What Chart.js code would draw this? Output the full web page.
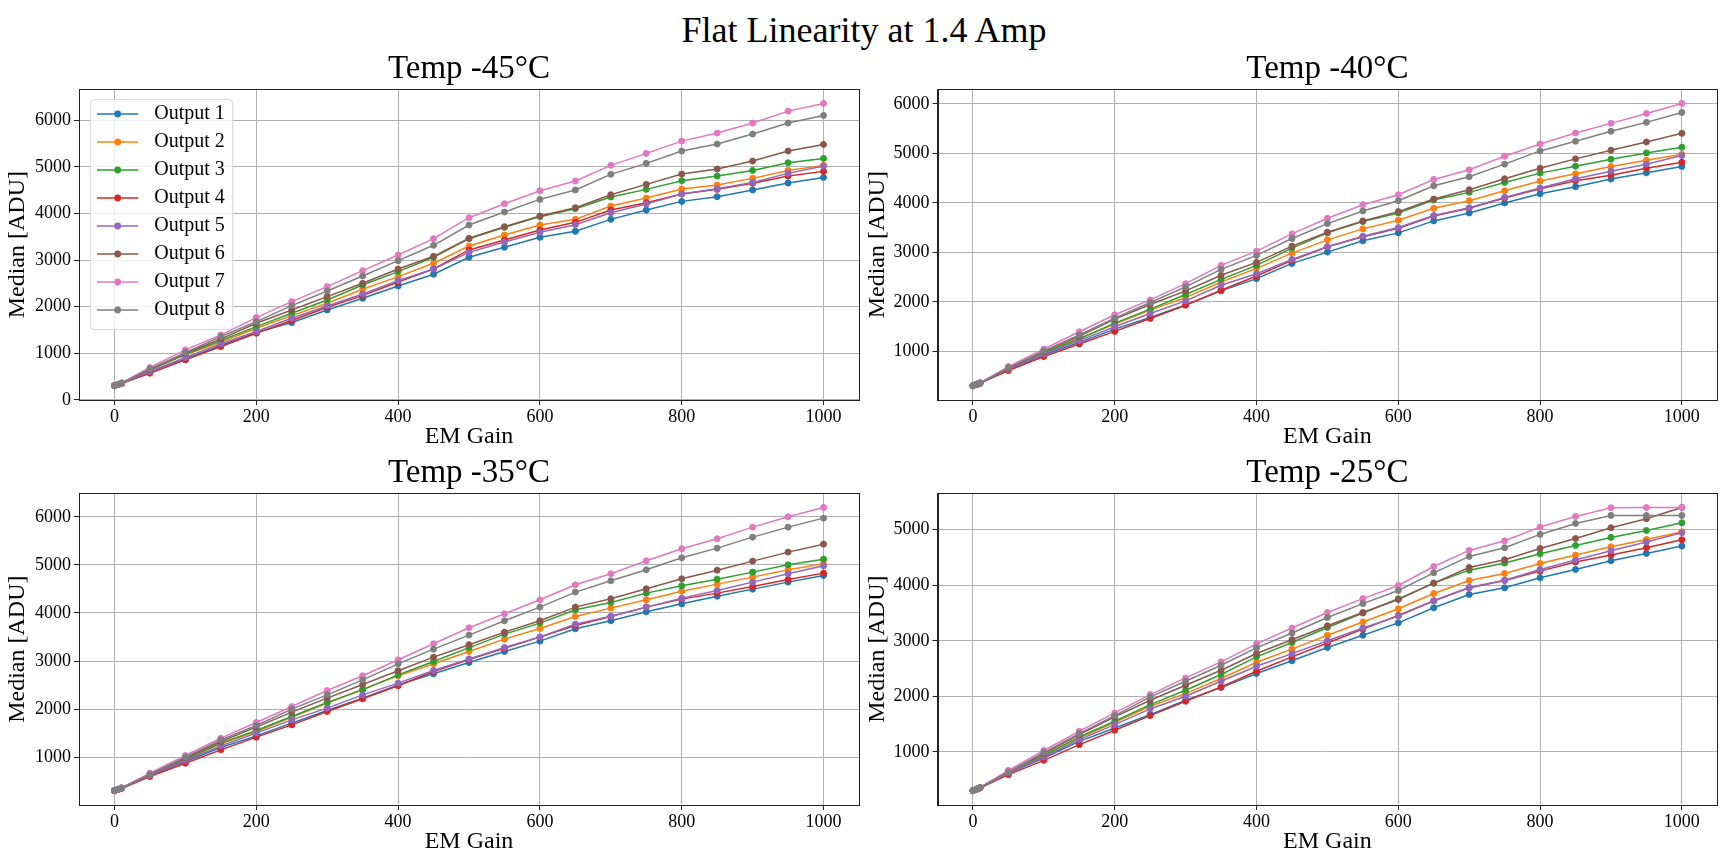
<!DOCTYPE html>
<html>
<head>
<meta charset="utf-8">
<script src="https://cdn.jsdelivr.net/npm/chart.js@4.4.0/dist/chart.umd.min.js"></script>
<style>
html,body{margin:0;padding:0;background:#fff;width:1728px;height:864px;overflow:hidden;}
#suptitle{position:absolute;left:0;top:12px;width:1728px;text-align:center;font-family:"Liberation Serif","DejaVu Serif",serif;font-size:36px;line-height:36px;color:#000;}
canvas{position:absolute;}
</style>
</head>
<body>
<div id="suptitle">Flat Linearity at 1.4 Amp</div>
<canvas id="c1" width="864" height="420" style="left:0px;top:40px"></canvas>
<canvas id="c2" width="864" height="420" style="left:860px;top:40px"></canvas>
<canvas id="c3" width="864" height="420" style="left:0px;top:444px"></canvas>
<canvas id="c4" width="864" height="420" style="left:860px;top:444px"></canvas>
<script>
// ---------- data ----------
const gain = [0,5,10,50,100,150,200,250,300,350,400,450,500,550,600,650,700,750,800,850,900,950,1000];
const outputs = ['Output 1','Output 2','Output 3','Output 4','Output 5','Output 6','Output 7','Output 8'];
const colors = ['#1f77b4','#ff7f0e','#2ca02c','#d62728','#9467bd','#8c564b','#e377c2','#7f7f7f'];
const xTicks = [0,200,400,600,800,1000];
const titles = ['Temp -45\u00B0C','Temp -40\u00B0C','Temp -35\u00B0C','Temp -25\u00B0C'];
const yTicksM45 = [0,1000,2000,3000,4000,5000,6000];
const yTicksM40 = [1000,2000,3000,4000,5000,6000];
const yTicksM35 = [1000,2000,3000,4000,5000,6000];
const yTicksM25 = [1000,2000,3000,4000,5000];

const medianM45 = [
  [305,330,355,608,879,1166,1444,1659,1930,2181,2445,2696,3060,3275,3489,3618,3875,4076,4261,4362,4505,4655,4776],
  [300,328,356,643,965,1237,1537,1809,2074,2374,2646,2932,3303,3539,3754,3875,4161,4333,4526,4612,4755,4926,5034],
  [302,330,358,643,980,1273,1573,1859,2145,2467,2753,3060,3460,3704,3933,4104,4354,4519,4705,4805,4926,5091,5184],
  [301,325,350,572,858,1144,1430,1702,1988,2238,2531,2810,3218,3432,3646,3811,4076,4233,4419,4519,4648,4805,4905],
  [303,327,352,608,908,1201,1466,1752,2016,2274,2560,2810,3167,3389,3596,3761,4018,4204,4419,4533,4669,4862,5019],
  [304,331,359,650,1001,1309,1645,1930,2217,2502,2810,3082,3468,3718,3947,4126,4404,4626,4848,4955,5127,5341,5484],
  [306,334,362,694,1073,1394,1766,2109,2431,2774,3110,3461,3911,4211,4490,4698,5034,5291,5555,5727,5942,6199,6364],
  [305,333,361,665,1015,1359,1680,2023,2338,2660,2989,3318,3754,4033,4304,4505,4841,5077,5341,5491,5706,5942,6106]
];
const medianM40 = [
  [305,330,355,630,925,1180,1448,1683,1938,2220,2468,2776,3004,3232,3393,3635,3796,3997,4185,4326,4480,4607,4735],
  [300,327,354,650,979,1261,1549,1831,2085,2401,2676,2984,3252,3474,3648,3890,4044,4245,4440,4587,4735,4862,4983],
  [302,329,357,655,966,1247,1569,1851,2146,2454,2736,3085,3393,3621,3796,4057,4212,4413,4601,4741,4882,5010,5124],
  [301,325,350,610,892,1147,1401,1663,1931,2233,2521,2837,3112,3313,3487,3735,3890,4098,4285,4446,4560,4701,4822],
  [303,327,352,640,945,1214,1495,1763,2018,2334,2568,2857,3112,3326,3500,3745,3900,4111,4299,4487,4641,4782,4956],
  [304,331,358,660,992,1301,1649,1945,2220,2535,2796,3125,3407,3635,3823,4078,4265,4487,4701,4889,5063,5231,5405],
  [306,334,362,690,1046,1395,1737,2038,2367,2736,3024,3373,3688,3963,4165,4473,4668,4943,5191,5412,5607,5808,6010],
  [305,333,361,670,1006,1328,1670,1985,2300,2655,2937,3279,3581,3836,4044,4346,4527,4782,5050,5245,5446,5627,5828]
];
const medianM35 = [
  [305,330,355,620,910,1201,1444,1708,1971,2228,2505,2734,2970,3199,3414,3671,3837,4024,4191,4350,4496,4642,4780],
  [300,327,354,640,950,1278,1534,1832,2124,2415,2693,2942,3200,3456,3678,3927,4101,4274,4454,4600,4746,4898,5023],
  [302,329,357,645,960,1292,1555,1846,2138,2401,2713,2991,3280,3560,3789,4066,4219,4413,4565,4704,4850,5002,5120],
  [301,325,350,598,875,1153,1417,1673,1951,2214,2485,2783,3030,3268,3497,3740,3927,4122,4288,4413,4551,4697,4829],
  [303,327,352,625,930,1236,1500,1777,2020,2297,2540,2804,3045,3282,3500,3768,3930,4122,4309,4468,4642,4815,4981],
  [304,331,358,650,980,1326,1625,1937,2228,2512,2797,3081,3340,3601,3837,4122,4295,4503,4711,4891,5079,5266,5432],
  [306,334,362,667,1035,1396,1722,2054,2387,2693,3026,3359,3692,3983,4274,4586,4815,5086,5335,5543,5786,6001,6195],
  [305,333,361,647,1000,1361,1659,1999,2297,2609,2942,3247,3540,3837,4122,4434,4669,4898,5148,5349,5578,5786,5973]
];
const medianM25 = [
  [305,330,355,615,891,1191,1432,1672,1930,2158,2411,2640,2880,3100,3323,3594,3834,3954,4134,4284,4441,4573,4705],
  [300,327,354,630,945,1251,1534,1822,2050,2321,2615,2850,3100,3340,3576,3852,4086,4212,4393,4543,4693,4825,4963],
  [302,329,357,630,933,1270,1552,1852,2110,2393,2711,2970,3240,3500,3756,4038,4272,4399,4567,4717,4861,4987,5125],
  [301,325,350,591,849,1131,1390,1654,1912,2170,2453,2710,2960,3210,3456,3720,3954,4086,4254,4417,4543,4675,4819],
  [303,327,352,621,909,1222,1492,1774,2002,2272,2543,2770,3000,3230,3444,3720,3960,4090,4284,4453,4621,4777,4945],
  [304,331,358,640,969,1312,1630,1930,2200,2471,2771,3020,3270,3510,3744,4038,4320,4459,4663,4843,5035,5197,5400],
  [306,334,362,669,1029,1372,1702,2032,2332,2621,2945,3230,3510,3760,3996,4338,4627,4801,5047,5239,5395,5398,5400],
  [305,333,361,639,993,1330,1654,1990,2272,2561,2873,3140,3420,3670,3906,4224,4519,4675,4915,5113,5257,5255,5257]
];

// ---------- drawing ----------
const FAMILY = '"Liberation Serif", "DejaVu Serif", serif';

const framePlugin = {
  id: 'mplFrame',
  afterDatasetsDraw(chart) {
    const {ctx, chartArea: a} = chart;
    ctx.save();
    ctx.strokeStyle = '#222';
    ctx.lineWidth = 1;
    ctx.strokeRect(Math.round(a.left) + 0.5, Math.round(a.top) + 0.5,
                   Math.round(a.right) - Math.round(a.left), Math.round(a.bottom) - Math.round(a.top));
    ctx.restore();
  }
};

const legendPlugin = {
  id: 'mplLegend',
  afterDraw(chart, args, opts) {
    if (!opts || !opts.display) return;
    const {ctx, chartArea: a} = chart;
    const x0 = a.left + 11.3, y0 = a.top + 10.3, w = 142.4, h = 230, r = 4;
    ctx.save();
    ctx.beginPath();
    ctx.moveTo(x0 + r, y0);
    ctx.arcTo(x0 + w, y0, x0 + w, y0 + h, r);
    ctx.arcTo(x0 + w, y0 + h, x0, y0 + h, r);
    ctx.arcTo(x0, y0 + h, x0, y0, r);
    ctx.arcTo(x0, y0, x0 + w, y0, r);
    ctx.closePath();
    ctx.fillStyle = 'rgba(255,255,255,0.8)';
    ctx.fill();
    ctx.strokeStyle = 'rgba(204,204,204,0.8)';
    ctx.lineWidth = 1;
    ctx.stroke();
    chart.data.datasets.forEach((ds, i) => {
      const cy = a.top + 24.7 + i * 28;
      ctx.strokeStyle = ds.borderColor;
      ctx.lineWidth = 1.5;
      ctx.beginPath();
      ctx.moveTo(a.left + 18, cy);
      ctx.lineTo(a.left + 59.3, cy);
      ctx.stroke();
      ctx.fillStyle = ds.borderColor;
      ctx.beginPath();
      ctx.arc(a.left + 38.7, cy, 3.4, 0, Math.PI * 2);
      ctx.fill();
      ctx.fillStyle = '#000';
      ctx.font = '20px ' + FAMILY;
      ctx.textAlign = 'left';
      ctx.textBaseline = 'middle';
      ctx.fillText(ds.label, a.left + 75.3, cy);
    });
    ctx.restore();
  }
};

function makeChart(id, title, medians, yTicks, opts) {
  const all = medians.flat();
  const lo = Math.min(...all), hi = Math.max(...all);
  const m = 0.05 * (hi - lo);
  const datasets = medians.map((vals, i) => ({
    label: outputs[i],
    data: vals.map((v, j) => ({x: gain[j], y: v})),
    borderColor: colors[i],
    backgroundColor: colors[i],
    pointBackgroundColor: colors[i],
    pointBorderColor: colors[i],
    borderWidth: 1.5,
    pointRadius: 3,
    pointBorderWidth: 1,
    tension: 0,
    fill: false,
    order: medians.length - i
  }));
  const gridOpts = {color: '#b0b0b0', lineWidth: 1, tickColor: '#222', tickLength: 5, drawTicks: true};
  const tickFont = {family: FAMILY, size: 18};
  return new Chart(document.getElementById(id), {
    type: 'line',
    data: {datasets},
    plugins: [framePlugin, legendPlugin],
    options: {
      responsive: false,
      animation: false,
      devicePixelRatio: 1,
      layout: {padding: {left: 0, right: opts.padRight, top: 0, bottom: 0}},
      plugins: {
        legend: {display: false},
        tooltip: {enabled: false},
        title: {
          display: true, text: title, fullSize: false, color: '#000',
          font: {family: FAMILY, size: 33, weight: 'normal'},
          padding: {top: 9.1, bottom: 0.6}
        },
        mplLegend: {display: !!opts.legend}
      },
      scales: {
        x: {
          type: 'linear', min: -50, max: 1050,
          afterBuildTicks: s => { s.ticks = xTicks.map(v => ({value: v})); },
          afterFit: s => { s.height = opts.xHeight; },
          ticks: {font: tickFont, color: '#000', padding: 1, maxRotation: 0, autoSkip: false, callback: v => String(v)},
          grid: gridOpts,
          border: {display: true, color: '#222', width: 1},
          title: {display: true, text: 'EM Gain', color: '#000', font: {family: FAMILY, size: 24}, padding: {top: 0, bottom: opts.xTitlePad}}
        },
        y: {
          type: 'linear', min: lo - m, max: hi + m,
          afterBuildTicks: s => { s.ticks = yTicks.map(v => ({value: v})); },
          afterFit: s => { s.width = opts.yWidth; },
          ticks: {font: tickFont, color: '#000', padding: 3, autoSkip: false, callback: v => String(v)},
          grid: gridOpts,
          border: {display: true, color: '#222', width: 1},
          title: {display: true, text: 'Median [ADU]', color: '#000', font: {family: FAMILY, size: 24}, padding: {top: 3, bottom: 0}}
        }
      }
    }
  });
}

makeChart('c1', titles[0], medianM45, yTicksM45, {legend: true, padRight: 4.7, yWidth: 79, xHeight: 60, xTitlePad: 8.6});
makeChart('c2', titles[1], medianM40, yTicksM40, {legend: false, padRight: 6.7, yWidth: 77.5, xHeight: 60, xTitlePad: 8.6});
makeChart('c3', titles[2], medianM35, yTicksM35, {legend: false, padRight: 4.7, yWidth: 79, xHeight: 59, xTitlePad: 7.9});
makeChart('c4', titles[3], medianM25, yTicksM25, {legend: false, padRight: 6.7, yWidth: 77.5, xHeight: 59, xTitlePad: 7.9});
</script>
</body>
</html>
